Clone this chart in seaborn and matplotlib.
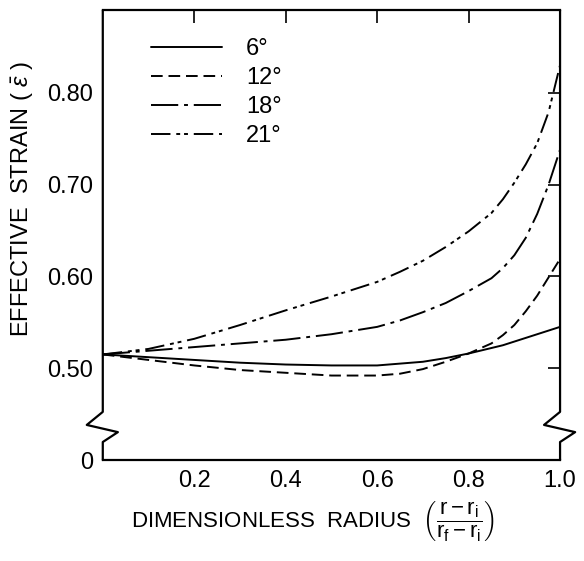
import numpy as np
import pandas as pd
import seaborn as sns
import matplotlib.pyplot as plt

# dimensionless radius (r - ri)/(rf - ri)
radius = [0, 0.1, 0.2, 0.3, 0.4, 0.5, 0.6, 0.65, 0.7, 0.75, 0.8, 0.85, 0.875, 0.9, 0.925, 0.95, 0.975, 1.0]

# effective strain for each die angle
strain_6 = [0.515, 0.512, 0.509, 0.506, 0.504, 0.503, 0.503, 0.505, 0.507, 0.511, 0.516, 0.522, 0.525, 0.529, 0.533, 0.537, 0.541, 0.545]
strain_12 = [0.515, 0.509, 0.503, 0.498, 0.495, 0.492, 0.492, 0.494, 0.499, 0.507, 0.516, 0.527, 0.536, 0.547, 0.562, 0.579, 0.599, 0.619]
strain_18 = [0.515, 0.519, 0.523, 0.527, 0.531, 0.537, 0.545, 0.552, 0.561, 0.571, 0.584, 0.598, 0.609, 0.623, 0.642, 0.668, 0.700, 0.738]
strain_21 = [0.515, 0.521, 0.532, 0.547, 0.563, 0.578, 0.594, 0.605, 0.617, 0.632, 0.649, 0.669, 0.684, 0.702, 0.722, 0.745, 0.779, 0.830]

angles = ['6°', '12°', '18°', '21°']
y_ticks = [0.40, 0.50, 0.60, 0.70, 0.80]
y_tick_labels = ['0', '0.50', '0.60', '0.70', '0.80']
x_ticks = [0.2, 0.4, 0.6, 0.8, 1.0]
x_tick_labels = ['0.2', '0.4', '0.6', '0.8', '1.0']

sns.set_style('white')
plt.rcParams['font.family'] = ['Liberation Sans', 'DejaVu Sans']
plt.rcParams['mathtext.fontset'] = 'custom'
plt.rcParams['mathtext.rm'] = 'Liberation Sans'
plt.rcParams['mathtext.it'] = 'Liberation Sans:italic'
for key in ['text.color', 'axes.labelcolor', 'xtick.color', 'ytick.color']:
    plt.rcParams[key] = 'black'

df = pd.DataFrame({'radius': radius * 4,
                   'strain': strain_6 + strain_12 + strain_18 + strain_21,
                   'angle': np.repeat(angles, len(radius))})

fig = plt.figure(figsize=(5.84, 5.61), dpi=100)
ax = fig.add_axes([0.176, 0.180, 0.783, 0.802])

dashes = {'6°': '', '12°': (6, 3), '18°': (14, 3, 2, 3), '21°': (10, 3, 2, 2, 2, 3)}
sns.lineplot(data=df, x='radius', y='strain', hue='angle', style='angle',
             palette=['black'] * 4, dashes=dashes, linewidth=1.4, ax=ax)

ax.set_xlim(0, 1.0)
ax.set_ylim(0.40, 0.89)
ax.set_xticks(x_ticks)
ax.set_xticklabels(x_tick_labels)
ax.set_yticks(y_ticks)
ax.set_yticklabels(y_tick_labels)
ax.tick_params(direction='in', length=9, width=1.2, labelsize=17, top=True, right=True,
               pad=7)
# no tick mark at the broken part of the axis
ax.yaxis.get_major_ticks()[0].tick1line.set_visible(False)
ax.yaxis.get_major_ticks()[0].tick2line.set_visible(False)

# broken axis: redraw side spines with a zigzag
for side in ['left', 'right']:
    ax.spines[side].set_visible(False)
for sp in ['top', 'bottom']:
    ax.spines[sp].set_linewidth(1.6)
    ax.spines[sp].set_color('black')
zig_y = [1.0, 0.107, 0.078, 0.062, 0.040, 0.0]
ax.plot([0, 0, -0.035, 0.033, 0, 0], zig_y, transform=ax.transAxes, color='black',
        lw=1.6, clip_on=False)
ax.plot([1, 1, 0.965, 1.033, 1, 1], zig_y, transform=ax.transAxes, color='black',
        lw=1.6, clip_on=False)

ax.set_ylabel(r'EFFECTIVE  STRAIN ( $\bar{\varepsilon}$ )', fontsize=17)
ax.yaxis.set_label_coords(-0.145, 0.58)
ax.set_xlabel(r'DIMENSIONLESS  RADIUS  $\left(\dfrac{\mathrm{r}-\mathrm{r_i}}{\mathrm{r_f}-\mathrm{r_i}}\right)$',
              fontsize=16)
ax.xaxis.set_label_coords(0.46, -0.088)

ax.legend(loc='upper left', bbox_to_anchor=(0.06, 0.985), frameon=False, fontsize=17,
          handlelength=3.0, handletextpad=1.0, labelspacing=0.3, title=None)

plt.savefig('out.png', dpi=100)
